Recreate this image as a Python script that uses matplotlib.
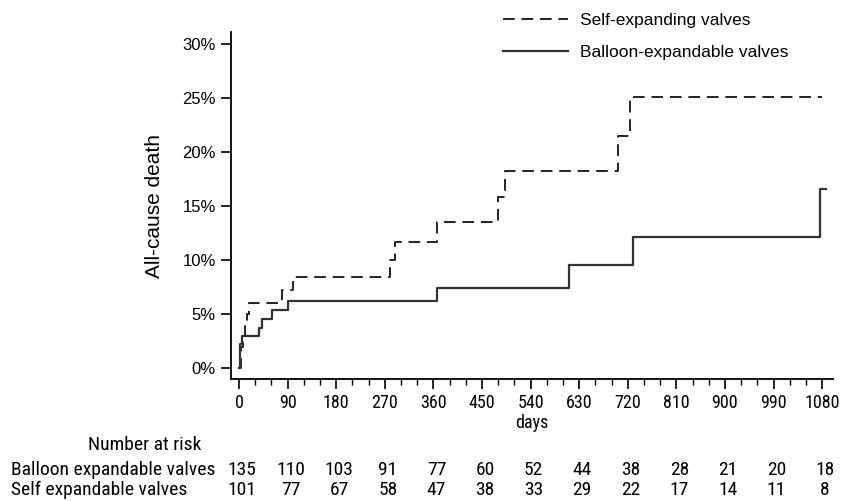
import matplotlib
matplotlib.use('Agg')
import matplotlib.pyplot as plt
import matplotlib.transforms as mtransforms
from matplotlib.ticker import MultipleLocator, FuncFormatter

plt.rcParams['font.family'] = ['Liberation Sans', 'DejaVu Sans']

# Kurva Kaplan-Meier (hari, persen kematian kumulatif)
balloon_days = [0, 2, 5, 36, 42, 61, 91, 366, 612, 730, 1077, 1088]
balloon_pct = [0, 2.2, 2.95, 3.7, 4.55, 5.4, 6.25, 7.45, 9.55, 12.15, 16.6, 16.6]

self_days = [0, 3, 7, 11, 15, 19, 80, 99, 280, 289, 366, 480, 493, 702, 724, 1079]
self_pct = [0, 2.0, 3.0, 4.0, 5.0, 6.05, 7.2, 8.45, 10.0, 11.65, 13.55, 15.85, 18.2, 21.5, 25.05, 25.05]

# Tabel number at risk
risk_days = [0, 90, 180, 270, 360, 450, 540, 630, 720, 810, 900, 990, 1080]
risk_balloon = [135, 110, 103, 91, 77, 60, 52, 44, 38, 28, 21, 20, 18]
risk_self = [101, 77, 67, 58, 47, 38, 33, 29, 22, 17, 14, 11, 8]

narrow = ['Roboto Condensed', 'Archivo Narrow', 'Liberation Sans']

fig = plt.figure(figsize=(8.43, 5.01), dpi=100)
ax = fig.add_axes([0.274, 0.2435, 0.714, 0.6925])

ax.step(self_days, self_pct, where='post', color='#222222', lw=1.4,
        linestyle=(0, (6, 3.5)), label='Self-expanding valves')
ax.step(balloon_days, balloon_pct, where='post', color='#333333', lw=1.6,
        label='Balloon-expandable valves')

ax.set_xlim(-15, 1100)
ax.set_ylim(-1.0, 31.1)
ax.set_xticks(risk_days)
ax.xaxis.set_minor_locator(MultipleLocator(30))
ax.set_yticks(range(0, 31, 5))
ax.yaxis.set_major_formatter(FuncFormatter(lambda v, p: f'{int(v)}%'))

for s in ['top', 'right']:
    ax.spines[s].set_visible(False)
for s in ['left', 'bottom']:
    ax.spines[s].set_linewidth(1.3)

ax.tick_params(axis='y', length=7, width=1.2, labelsize=12, pad=4)
ax.tick_params(axis='x', which='major', length=7, width=1.2, pad=4)
ax.tick_params(axis='x', which='minor', length=4, width=1.0)
for lbl in ax.get_xticklabels():
    lbl.set_family(narrow)
    lbl.set_fontsize(13)

ax.set_xlabel('days', family=narrow, fontsize=13, labelpad=1)
ax.set_ylabel('All-cause death', fontsize=15, labelpad=13)

ax.legend(loc='upper left', bbox_to_anchor=(0.597, 0.975), bbox_transform=fig.transFigure,
          frameon=False, fontsize=12.5, handlelength=3.7, handletextpad=0.7,
          labelspacing=1.0, borderpad=0, borderaxespad=0)

# Number at risk di bawah sumbu
fs_tab = 14
trans = mtransforms.blended_transform_factory(ax.transData, fig.transFigure)
trans = trans + mtransforms.ScaledTranslation(3 / 100, 0, fig.dpi_scale_trans)
fig.text(145 / 843, 1 - 445 / 501, 'Number at risk', family=narrow, fontsize=fs_tab,
         ha='center', va='center')
fig.text(11 / 843, 1 - 470 / 501, 'Balloon expandable valves', family=narrow,
         fontsize=fs_tab, ha='left', va='center')
fig.text(11 / 843, 1 - 490 / 501, 'Self expandable valves', family=narrow,
         fontsize=fs_tab, ha='left', va='center')
for d, b, s in zip(risk_days, risk_balloon, risk_self):
    ax.text(d, 1 - 470 / 501, str(b), transform=trans, family=narrow,
            fontsize=fs_tab, ha='center', va='center')
    ax.text(d, 1 - 490 / 501, str(s), transform=trans, family=narrow,
            fontsize=fs_tab, ha='center', va='center')

fig.savefig('out.png', dpi=100)
